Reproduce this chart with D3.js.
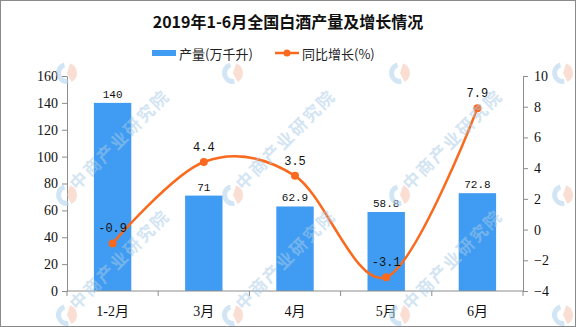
<!DOCTYPE html>
<html>
<head>
<meta charset="utf-8">
<script src="https://cdn.jsdelivr.net/npm/d3@7/dist/d3.min.js"></script>
<style>
  html, body { margin: 0; padding: 0; background: #fff; }
  svg { display: block; }
</style>
</head>
<body>
<svg id="chart" width="576" height="327"></svg>
<script>
// Baijiu output, Jan–Jun 2019
const categories = ["1-2月", "3月", "4月", "5月", "6月"];
const output = [140, 71, 62.9, 58.8, 72.8];          // 产量 (万千升)
const growth = [-0.9, 4.4, 3.5, -3.1, 7.9];          // 同比增长 (%)
const leftTicks = [0, 20, 40, 60, 80, 100, 120, 140, 160];
const rightTicks = [-4, -2, 0, 2, 4, 6, 8, 10];

const W = 576, H = 327;
const svg = d3.select("#chart");
const margin = { left: 67, right: 53, top: 76, bottom: 36 };
const plotRight = W - margin.right;
const plotBottom = H - margin.bottom;

const barColor = "#3f9cf2";
const lineColor = "#fa6a1e";
const axisColor = "#8c8c8c";
const numFont = "'Liberation Serif', 'DejaVu Serif', serif";
const cjkFont = "'Liberation Serif', 'Noto Sans CJK SC', serif";
const labelFont = "'Liberation Mono', 'DejaVu Sans Mono', monospace";

const x = d3.scaleBand().domain(categories)
  .range([margin.left, plotRight]).paddingInner(0.59).paddingOuter(0.295);
const yL = d3.scaleLinear().domain([0, 160]).range([plotBottom, margin.top]);
const yR = d3.scaleLinear().domain([-4, 10]).range([plotBottom, margin.top]);

// outer frame
svg.append("rect").attr("x", 0.5).attr("y", 0.5).attr("width", W - 1).attr("height", H - 1)
  .attr("fill", "#fff").attr("stroke", "#8a8a8a");

// title
svg.append("text").attr("x", W / 2).attr("y", 28).attr("text-anchor", "middle")
  .attr("font-family", "'Noto Sans CJK SC', sans-serif").attr("font-weight", "bold")
  .attr("font-size", 16).attr("fill", "#111").text("2019年1-6月全国白酒产量及增长情况");

// legend
const lg = svg.append("g");
lg.append("rect").attr("x", 152).attr("y", 50).attr("width", 24).attr("height", 6).attr("fill", barColor);
lg.append("text").attr("x", 179).attr("y", 59).attr("font-family", "'Noto Sans CJK SC', sans-serif")
  .attr("font-size", 13).attr("fill", "#222").text("产量(万千升)");
lg.append("line").attr("x1", 275).attr("x2", 299).attr("y1", 53).attr("y2", 53)
  .attr("stroke", lineColor).attr("stroke-width", 2.5);
lg.append("circle").attr("cx", 287).attr("cy", 53).attr("r", 3.5).attr("fill", lineColor);
lg.append("text").attr("x", 302).attr("y", 59).attr("font-family", "'Noto Sans CJK SC', sans-serif")
  .attr("font-size", 13).attr("fill", "#222").text("同比增长(%)");

// bars
svg.append("g").selectAll("rect").data(output).join("rect")
  .attr("x", (d, i) => x(categories[i]))
  .attr("y", d => yL(d))
  .attr("width", x.bandwidth())
  .attr("height", d => yL(0) - yL(d))
  .attr("fill", barColor);

// axes
function styleAxis(g) {
  g.select(".domain").attr("stroke", axisColor);
  g.selectAll(".tick line").attr("stroke", axisColor);
  g.selectAll(".tick text").attr("fill", "#111");
}
const leftAxis = svg.append("g").attr("transform", `translate(${margin.left},0)`)
  .call(d3.axisLeft(yL).tickValues(leftTicks).tickSize(5).tickSizeOuter(0).tickPadding(4))
  .attr("font-family", numFont).attr("font-size", 14);
styleAxis(leftAxis);

const rightAxis = svg.append("g").attr("transform", `translate(${plotRight},0)`)
  .call(d3.axisRight(yR).tickValues(rightTicks).tickSize(5).tickSizeOuter(0).tickPadding(6)
    .tickFormat(d => d < 0 ? "\u2212" + Math.abs(d) : d))
  .attr("font-family", numFont).attr("font-size", 14);
styleAxis(rightAxis);

// category axis: ticks at band boundaries
const bottom = svg.append("g").attr("transform", `translate(0,${plotBottom})`);
bottom.append("line").attr("x1", margin.left).attr("x2", plotRight)
  .attr("stroke", axisColor);
const bounds = categories.map(c => x(c) - x.step() * x.paddingInner() / 2);
bounds[0] = margin.left;
bounds.push(plotRight);
bottom.selectAll("line.tk").data(bounds).join("line").attr("class", "tk")
  .attr("x1", d => d).attr("x2", d => d).attr("y1", 0).attr("y2", 5).attr("stroke", axisColor);
bottom.selectAll("text").data(categories).join("text")
  .attr("x", d => x(d) + x.bandwidth() / 2).attr("y", 25).attr("text-anchor", "middle")
  .attr("font-family", cjkFont).attr("font-size", 14).attr("fill", "#111").text(d => d);

// bar value labels
svg.append("g").selectAll("text").data(output).join("text")
  .attr("x", (d, i) => x(categories[i]) + x.bandwidth() / 2)
  .attr("y", d => yL(d) - 5).attr("text-anchor", "middle")
  .attr("font-family", labelFont).attr("font-size", 11).attr("fill", "#111")
  .text(d => d);

// growth line
const cx = i => x(categories[i]) + x.bandwidth() / 2;
const line = d3.line().x((d, i) => cx(i)).y(d => yR(d)).curve(d3.curveCatmullRom.alpha(0));
svg.append("path").datum(growth).attr("d", line).attr("fill", "none")
  .attr("stroke", lineColor).attr("stroke-width", 2.5);
svg.append("g").selectAll("circle").data(growth).join("circle")
  .attr("cx", (d, i) => cx(i)).attr("cy", d => yR(d)).attr("r", 4).attr("fill", lineColor);
svg.append("g").selectAll("text").data(growth).join("text")
  .attr("x", (d, i) => cx(i)).attr("y", d => yR(d) - 11).attr("text-anchor", "middle")
  .attr("font-family", labelFont).attr("font-size", 12).attr("fill", "#111")
  .text(d => d.toFixed(1));

// brand watermark: logo marks on a grid, wordmark where it fits inside the frame
const wm = svg.append("g").attr("pointer-events", "none");
const wmX = [67, 233, 400, 563];
const wmY = [73, 195, 315];
wmY.forEach(yy => wmX.forEach(xx => {
  const g = wm.append("g").attr("transform", `translate(${xx},${yy})`);
  g.append("path").attr("d", d3.arc().innerRadius(6).outerRadius(11).startAngle(Math.PI * 0.95).endAngle(Math.PI * 1.9)())
    .attr("fill", "#b3d3ee").attr("opacity", 0.6);
  g.append("path").attr("d", d3.arc().innerRadius(0).outerRadius(10).startAngle(Math.PI * 0.1).endAngle(Math.PI * 0.85)())
    .attr("fill", "#f6c3b0").attr("opacity", 0.55);
  if (yy > 150 && xx < 500) {
    g.append("text").attr("transform", "translate(10,-4) rotate(-45)")
      .attr("font-family", "'Noto Sans CJK SC', sans-serif").attr("font-size", 17)
      .attr("font-weight", "bold").attr("letter-spacing", 2)
      .attr("fill", "#a9cbe8").attr("opacity", 0.5).text("中商产业研究院");
  }
}));
</script>
</body>
</html>
